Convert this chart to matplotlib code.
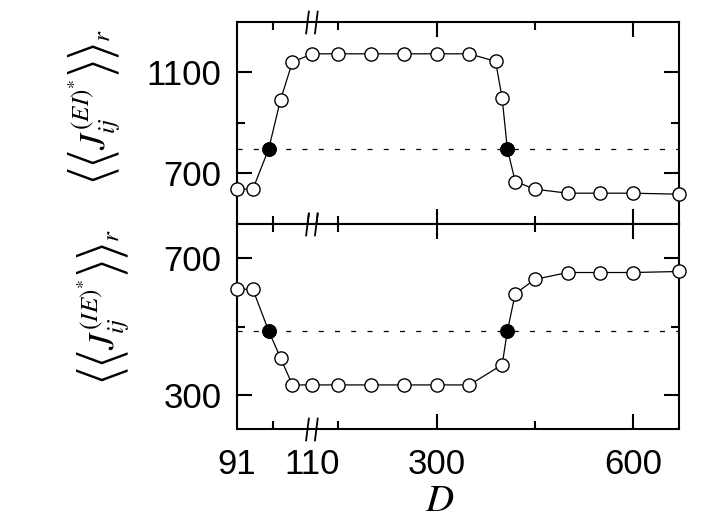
import numpy as np
import matplotlib
matplotlib.use('Agg')
import matplotlib.pyplot as plt
from matplotlib.path import Path

plt.rcParams['font.family'] = ['Liberation Sans', 'DejaVu Sans']
plt.rcParams['mathtext.fontset'] = 'stix'

# ---- data ----
D_top = [91, 95, 99, 102, 105, 110, 150, 200, 250, 300, 350, 390, 400, 408, 420, 450, 500, 550, 600, 670]
J_EI = [638, 638, 797, 992, 1141, 1174, 1174, 1174, 1174, 1174, 1174, 1144, 998, 797, 668, 638, 622, 622, 622, 618]
D_bot = [91, 95, 99, 102, 105, 110, 150, 200, 250, 300, 350, 400, 408, 420, 450, 500, 550, 600, 670]
J_IE = [609, 609, 487, 408, 329, 329, 329, 329, 329, 329, 329, 388, 487, 596, 638, 658, 658, 658, 661]
filled_D = [99, 408]
EI_threshold = 797
IE_threshold = 487
x_major = [91, 110, 300, 600]
x_major_labels = ['91', '110', '300', '600']
x_minor = [100, 150, 450]
y_top_major = [700, 1100]
y_top_minor = [900]
y_bot_major = [300, 700]
y_bot_minor = [500]

BREAK = 110
XMIN, XMAX = 91, 670


def fwd(x):
    x = np.asarray(x, dtype=float)
    return np.where(x <= BREAK, (x - XMIN) * 75.0 / 19.0, 75.0 + (x - BREAK) * 0.6533)


def inv(y):
    y = np.asarray(y, dtype=float)
    return np.where(y <= 75.0, XMIN + y * 19.0 / 75.0, BREAK + (y - 75.0) / 0.6533)


W, H = 726, 519
fig = plt.figure(figsize=(W / 100, H / 100), dpi=100)
ax1 = fig.add_axes([237 / W, 1 - 224 / H, 442 / W, 202 / H])
ax2 = fig.add_axes([237 / W, 1 - 429 / H, 442 / W, 205 / H])

break_path = Path([(-0.55, -1), (-0.3, 1), (0.2, -1), (0.45, 1)],
                  [Path.MOVETO, Path.LINETO, Path.MOVETO, Path.LINETO])


def style(ax, D, J, thr, ymaj, ymin, ylim):
    ax.set_xscale('function', functions=(fwd, inv))
    ax.set_xlim(XMIN, XMAX)
    ax.set_ylim(*ylim)
    ax.axhline(thr, color='k', lw=0.9, ls=(0, (4, 9)), zorder=1)
    ax.plot(D, J, '-', color='k', lw=0.9, marker='o', ms=9.5, mfc='white',
            mec='k', mew=1.0, clip_on=False, zorder=3)
    fd = [d for d in D if d in filled_D]
    fj = [J[D.index(d)] for d in fd]
    ax.plot(fd, fj, 'o', ms=9.5, mfc='k', mec='k', mew=1.0, clip_on=False, zorder=4)
    ax.set_xticks(x_major)
    ax.set_xticks(x_minor, minor=True)
    ax.set_yticks(ymaj)
    ax.set_yticks(ymin, minor=True)
    ax.tick_params(which='both', direction='in', top=True, right=True, width=1.5,
                   labelsize=25)
    ax.tick_params(axis='y', pad=11)
    ax.tick_params(axis='x', pad=14)
    ax.tick_params(which='major', length=11)
    ax.tick_params(which='minor', length=6)
    for sp in ax.spines.values():
        sp.set_linewidth(1.5)
    for t in ax.xaxis.get_major_ticks()[:2]:
        t.tick1line.set_visible(False)
        t.tick2line.set_visible(False)
    tr = ax.get_xaxis_transform()
    for yv in (0, 1):
        ax.plot([BREAK], [yv], transform=tr, marker=break_path, ms=17, mec='k',
                mew=1.3, ls='none', clip_on=False, zorder=6)


style(ax1, D_top, J_EI, EI_threshold, y_top_major, y_top_minor, (500, 1300))
style(ax2, D_bot, J_IE, IE_threshold, y_bot_major, y_bot_minor, (200, 800))
ax1.set_xticklabels([])
ax2.set_xticklabels(x_major_labels)

fig.text(95 / W, 1 - 107 / H,
         r'$\left\langle\left\langle J_{ij}^{(EI)^{*}}\right\rangle\right\rangle_{r}$',
         rotation=90, ha='center', va='center', fontsize=26)
fig.text(104 / W, 1 - 307 / H,
         r'$\left\langle\left\langle J_{ij}^{(IE)^{*}}\right\rangle\right\rangle_{r}$',
         rotation=90, ha='center', va='center', fontsize=26)
fig.text(440 / W, 1 - 501 / H, r'$D$', ha='center', va='center', fontsize=28)

fig.savefig('out.png', dpi=100)
